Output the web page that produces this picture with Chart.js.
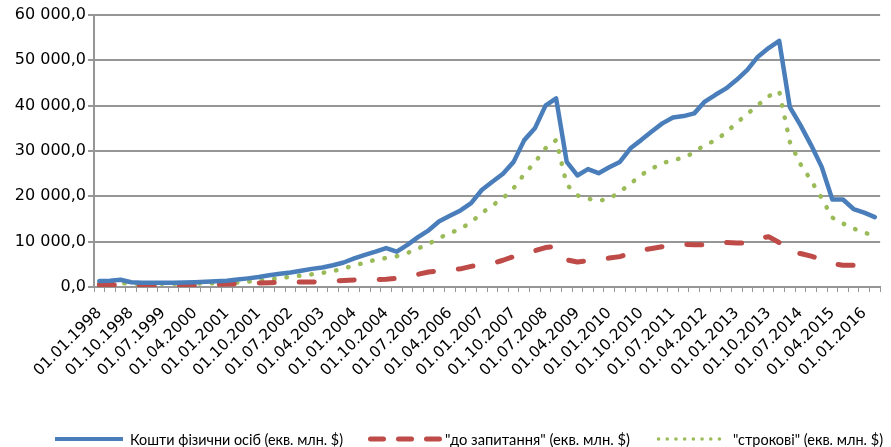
<!DOCTYPE html>
<html>
<head>
<meta charset="utf-8">
<script src="https://cdn.jsdelivr.net/npm/chart.js@4.4.1/dist/chart.umd.min.js"></script>
<style>
  html, body { margin: 0; padding: 0; background: #fff; overflow: hidden; width: 891px; height: 447px; }
  #wrap { position: relative; width: 900px; height: 447px; }
</style>
</head>
<body>
<div id="wrap"><canvas id="chart"></canvas></div>
<script>
// Quarterly dates, 1998 Q1 - 2016 Q2
const quarters = [
  "01.01.1998","01.04.1998","01.07.1998","01.10.1998",
  "01.01.1999","01.04.1999","01.07.1999","01.10.1999",
  "01.01.2000","01.04.2000","01.07.2000","01.10.2000",
  "01.01.2001","01.04.2001","01.07.2001","01.10.2001",
  "01.01.2002","01.04.2002","01.07.2002","01.10.2002",
  "01.01.2003","01.04.2003","01.07.2003","01.10.2003",
  "01.01.2004","01.04.2004","01.07.2004","01.10.2004",
  "01.01.2005","01.04.2005","01.07.2005","01.10.2005",
  "01.01.2006","01.04.2006","01.07.2006","01.10.2006",
  "01.01.2007","01.04.2007","01.07.2007","01.10.2007",
  "01.01.2008","01.04.2008","01.07.2008","01.10.2008",
  "01.01.2009","01.04.2009","01.07.2009","01.10.2009",
  "01.01.2010","01.04.2010","01.07.2010","01.10.2010",
  "01.01.2011","01.04.2011","01.07.2011","01.10.2011",
  "01.01.2012","01.04.2012","01.07.2012","01.10.2012",
  "01.01.2013","01.04.2013","01.07.2013","01.10.2013",
  "01.01.2014","01.04.2014","01.07.2014","01.10.2014",
  "01.01.2015","01.04.2015","01.07.2015","01.10.2015",
  "01.01.2016","01.04.2016"
];

// Household deposits, total (eq. mln $)
const totalDeposits = [
  1300, 1400, 1600, 1050, 950, 950, 950, 950, 1000, 1050,
  1150, 1250, 1400, 1650, 1900, 2200, 2600, 2900, 3200, 3600,
  4000, 4300, 4800, 5400, 6300, 7100, 7800, 8600, 7800, 9300,
  11000, 12500, 14500, 15700, 16900, 18500, 21400, 23200, 25000, 27600,
  32400, 35000, 40000, 41600, 27600, 24600, 26000, 25100, 26400, 27600,
  30600, 32400, 34300, 36100, 37400, 37700, 38300, 40900, 42400, 43800,
  45700, 47900, 50800, 52700, 54300, 39700, 35700, 31300, 26500, 19300,
  19300, 17200, 16400, 15400
];

// Demand deposits (eq. mln $)
const demandDeposits = [
  500, 500, 450, 350, 250, 200, 250, 300, 350, 400,
  450, 550, 650, 700, 800, 900, 950, 1000, 1100, 1100,
  1100, 1200, 1300, 1450, 1550, 1600, 1650, 1700, 1900, 2200,
  2800, 3300, 3550, 3750, 4000, 4550, 4900, 5200, 5900, 6700,
  7400, 8000, 8700, 9000, 6000, 5500, 5800, 6100, 6400, 6700,
  7400, 8100, 8500, 8900, 9300, 9400, 9300, 9300, 9600, 9800,
  9700, 9700, 10700, 11100, 9800, 7500, 7400, 6800, 6100, 5200,
  4800, 4800, 4500, 3900
];

// Term deposits (eq. mln $)
const termDeposits = [
  800, 850, 850, 750, 700, 700, 700, 700, 700, 750,
  800, 850, 900, 1000, 1200, 1400, 1700, 1900, 2300, 2500,
  2800, 3100, 3500, 4100, 4700, 5400, 6000, 6400, 6800, 7500,
  8500, 9500, 10800, 11900, 12800, 14300, 16300, 18000, 19600, 21800,
  24900, 27500, 30600, 32400, 22600, 20200, 19500, 19000, 19500, 21000,
  22800, 24700, 26100, 27300, 28000, 28500, 29700, 31400, 32300, 34100,
  36200, 38200, 40100, 42100, 43200, 32000, 27100, 23500, 19600, 15300,
  14000, 12900, 12000, 11300
];

const seriesNames = [
  "Кошти фізични осіб (екв. млн. $)",
  "\"до запитання\" (екв. млн. $)",
  "\"строкові\" (екв. млн. $)"
];

const yTicks = [0, 10000, 20000, 30000, 40000, 50000, 60000];

const BLUE = '#4a7ebb';
const RED = '#be4b48';
const GREEN = '#9bbb59';
const GRID = '#969696';

const yTickFont = { family: "'DejaVu Sans', sans-serif", size: 16 };
const xTickFont = { family: "'DejaVu Sans', sans-serif", size: 15.5 };
const legendFont = "15px Lato, 'Open Sans', sans-serif";

function formatThousands(v) {
  const s = Math.round(v).toString().replace(/\B(?=(\d{3})+(?!\d))/g, ' ');
  return s + ',0';
}

// Sample strokes, text start and text run width for the legend row
const legendItems = [
  { x0: 55,    x1: 123, lw: 4,   cap: 'butt',  dash: [],         tx: 130, tw: 213 },
  { x0: 370.5, x1: 440, lw: 5,   cap: 'round', dash: [13, 15],   tx: 445, tw: 185 },
  { x0: 658.5, x1: 720, lw: 3.5, cap: 'round', dash: [0.1, 8.6], tx: 733, tw: 150 }
];

const bottomLegend = {
  id: 'bottomLegend',
  afterDraw(chart) {
    const ctx = chart.ctx;
    const y = 439;
    ctx.save();
    chart.data.datasets.forEach((ds, k) => {
      const it = legendItems[k];
      ctx.beginPath();
      ctx.strokeStyle = ds.borderColor;
      ctx.lineWidth = it.lw;
      ctx.lineCap = it.cap;
      ctx.setLineDash(it.dash);
      ctx.moveTo(it.x0, y);
      ctx.lineTo(it.x1, y);
      ctx.stroke();
      ctx.setLineDash([]);

      ctx.fillStyle = '#000';
      ctx.font = legendFont;
      ctx.textBaseline = 'alphabetic';
      ctx.textAlign = 'left';
      const w = ctx.measureText(ds.label).width;
      const sx = Math.min(1.1, it.tw / w);
      ctx.save();
      ctx.translate(it.tx, 444.5);
      ctx.scale(sx, 1);
      ctx.fillText(ds.label, 0, 0);
      ctx.restore();
    });
    ctx.restore();
  }
};

new Chart(document.getElementById('chart'), {
  type: 'line',
  data: {
    labels: quarters,
    datasets: [
      {
        label: seriesNames[0], data: totalDeposits,
        borderColor: BLUE, borderWidth: 4.5,
        borderJoinStyle: 'round', borderCapStyle: 'round'
      },
      {
        label: seriesNames[1], data: demandDeposits,
        borderColor: RED, borderWidth: 5, borderDash: [15, 25],
        borderJoinStyle: 'round', borderCapStyle: 'round'
      },
      {
        label: seriesNames[2], data: termDeposits,
        borderColor: GREEN, borderWidth: 4.5, borderDash: [0.5, 12],
        borderJoinStyle: 'round', borderCapStyle: 'round'
      }
    ]
  },
  options: {
    responsive: true,
    maintainAspectRatio: false,
    animation: false,
    events: [],
    layout: { padding: { top: 15, right: 5, left: 0, bottom: 0 } },
    elements: { point: { radius: 0 }, line: { tension: 0, fill: false } },
    plugins: { legend: { display: false }, tooltip: { enabled: false } },
    scales: {
      x: {
        type: 'category',
        offset: true,
        grid: {
          display: true, offset: true, drawOnChartArea: false,
          drawTicks: true, tickLength: 5, color: GRID, lineWidth: 1
        },
        border: { display: true, color: GRID, width: 2 },
        ticks: {
          autoSkip: false, minRotation: 45, maxRotation: 45, padding: 12,
          color: '#000', font: xTickFont,
          callback: function (value, index) {
            return index % 3 === 0 ? this.getLabelForValue(value) : '';
          }
        },
        afterFit(scale) { scale.height = 160; }
      },
      y: {
        min: 0, max: 60000,
        afterBuildTicks(scale) { scale.ticks = yTicks.map(v => ({ value: v })); },
        grid: {
          color: GRID, lineWidth: 2, drawTicks: true, tickLength: 6
        },
        border: { display: true, color: GRID, width: 2 },
        ticks: {
          padding: 2, color: '#000', font: yTickFont,
          callback: (v) => formatThousands(v)
        },
        afterFit(scale) { scale.width = 94; }
      }
    }
  },
  plugins: [bottomLegend]
});
</script>
</body>
</html>
